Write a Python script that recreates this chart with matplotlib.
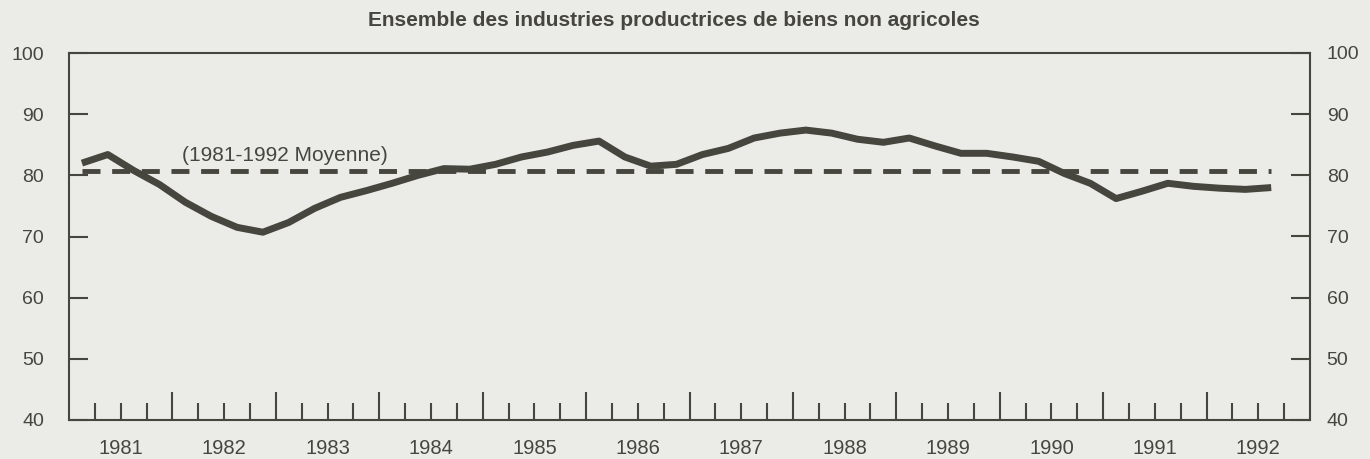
import matplotlib
matplotlib.use("Agg")
import matplotlib.pyplot as plt
import numpy as np

plt.rcParams["font.family"] = ["Liberation Sans", "DejaVu Sans"]

TITLE = "Ensemble des industries productrices de biens non agricoles"
AVG_LABEL = "(1981-1992 Moyenne)"

first_year = 1981
last_year = 1992
# taux d'utilisation trimestriel, 1981T1 .. 1992T3
utilisation = [
    82.0, 83.4, 80.8, 78.5, 75.6, 73.3, 71.5, 70.7,
    72.3, 74.6, 76.4, 77.5, 78.7, 80.0, 81.1, 81.0,
    81.8, 83.0, 83.8, 84.9, 85.6, 83.0, 81.5, 81.8,
    83.4, 84.4, 86.1, 86.9, 87.4, 86.9, 85.9, 85.4,
    86.1, 84.8, 83.6, 83.6, 83.0, 82.3, 80.3, 78.7,
    76.2, 77.4, 78.7, 78.2, 77.9, 77.7, 78.0,
]
average = 80.7
y_ticks = [40, 50, 60, 70, 80, 90, 100]
years = list(range(first_year, last_year + 1))

bg = "#ebebe8"
ink = "#46463f"

fig = plt.figure(figsize=(13.7, 4.59), dpi=100, facecolor=bg)
ax = fig.add_axes([69 / 1370, 1 - 420 / 459, 1241 / 1370, 367 / 459])
ax.set_facecolor(bg)

x = first_year + (np.arange(len(utilisation)) + 0.5) / 4
ax.plot(x, utilisation, color=ink, lw=5, solid_capstyle="butt",
        solid_joinstyle="round", zorder=3)
ax.hlines(average, x[0], x[-1], colors=ink, lw=3.5,
          linestyles=(0, (3.7, 2.4)), zorder=2)
ax.text(first_year + 1.09, average + 2.6, AVG_LABEL, color=ink,
        fontsize=15, ha="left", va="center")

ax.set_xlim(first_year, last_year + 1)
ax.set_ylim(40, 100)

for sp in ax.spines.values():
    sp.set_color(ink)
    sp.set_linewidth(1.5)

# y axis, left and right
ax.set_yticks(y_ticks)
ax.tick_params(axis="y", direction="in", length=14, width=1.5, color=ink,
               labelcolor=ink, labelsize=14, pad=18)
ax2 = ax.twinx()
ax2.set_ylim(40, 100)
ax2.set_yticks(y_ticks)
ax2.tick_params(axis="y", direction="in", length=14, width=1.5, color=ink,
                labelcolor=ink, labelsize=14, pad=12)
for sp in ax2.spines.values():
    sp.set_visible(False)

# x axis: year boundaries and quarters, labels centred in each year
ax.set_xticks(years[1:])
ax.set_xticklabels([])
quarters = [y + q / 4 for y in years for q in (1, 2, 3)]
ax.set_xticks(quarters, minor=True)
ax.tick_params(axis="x", which="major", direction="in", length=20, width=1.5,
               color=ink)
ax.tick_params(axis="x", which="minor", direction="in", length=12.5, width=1.5,
               color=ink)

sec = ax.secondary_xaxis("bottom")
sec.set_xticks([y + 0.5 for y in years])
sec.set_xticklabels([str(y) for y in years])
sec.tick_params(length=0, pad=14, labelsize=14.5, labelcolor=ink)
sec.spines["bottom"].set_visible(False)

fig.text(674 / 1370, 1 - 20 / 459, TITLE, ha="center", va="center",
         fontsize=15, fontweight="bold", color=ink)

fig.savefig("out.png", dpi=100, facecolor=bg)
